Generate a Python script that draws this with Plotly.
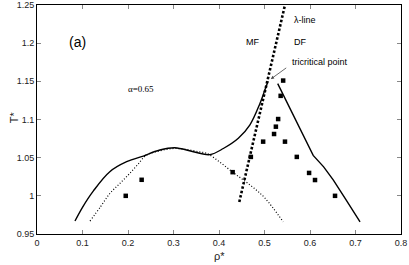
import plotly.graph_objects as go

# Solid coexistence curve, left branch
left_rho = [0.0835, 0.100, 0.124, 0.160, 0.197, 0.2337, 0.2396, 0.270, 0.303, 0.3436, 0.380, 0.4095, 0.4425, 0.468, 0.490, 0.501, 0.508]
left_T = [0.967, 0.985, 1.0065, 1.0316, 1.0447, 1.052, 1.0535, 1.060, 1.063, 1.0578, 1.054, 1.062, 1.0754, 1.093, 1.121, 1.139, 1.150]

# Solid coexistence curve, right branch
right_rho = [0.529, 0.548, 0.568, 0.588, 0.607, 0.630, 0.651, 0.680, 0.710]
right_T = [1.147, 1.124, 1.100, 1.076, 1.053, 1.038, 1.021, 0.994, 0.966]

# Dotted (mean-field) curve
mf_rho = [0.1165, 0.14, 0.16, 0.18, 0.2, 0.22, 0.241, 0.27, 0.30, 0.33, 0.358, 0.373, 0.40, 0.43, 0.453, 0.475, 0.501, 0.541]
mf_T = [0.967, 0.986, 1.003, 1.015, 1.027, 1.040, 1.0535, 1.059, 1.062, 1.0605, 1.0575, 1.0557, 1.045, 1.031, 1.021, 1.011, 0.997, 0.966]

# Lambda line
lam_rho = [0.4446, 0.545]
lam_T = [0.992, 1.25]

# Simulation points
sim_rho = [0.195, 0.23, 0.43, 0.47, 0.497, 0.545, 0.521, 0.525, 0.530, 0.5355, 0.541, 0.571, 0.598, 0.611, 0.655]
sim_T = [1.000, 1.021, 1.031, 1.051, 1.071, 1.071, 1.081, 1.0906, 1.1006, 1.131, 1.151, 1.051, 1.030, 1.0207, 1.000]

x_ticks = [0, 0.1, 0.2, 0.3, 0.4, 0.5, 0.6, 0.7, 0.8]
x_labels = ["0", "0.1", "0.2", "0.3", "0.4", "0.5", "0.6", "0.7", "0.8"]
y_ticks = [0.95, 1.0, 1.05, 1.1, 1.15, 1.2, 1.25]
y_labels = ["0.95", "1", "1.05", "1.1", "1.15", "1.2", "1.25"]

fig = go.Figure()
fig.add_trace(go.Scatter(x=mf_rho, y=mf_T, mode="lines", line_shape="spline",
                         line=dict(color="black", width=1.2, dash="1px,2px")))
fig.add_trace(go.Scatter(x=left_rho, y=left_T, mode="lines", line_shape="spline",
                         line=dict(color="black", width=1.4)))
fig.add_trace(go.Scatter(x=right_rho, y=right_T, mode="lines",
                         line=dict(color="black", width=1.4)))
fig.add_trace(go.Scatter(x=lam_rho, y=lam_T, mode="lines",
                         line=dict(color="black", width=2.6, dash="2.5px,2px")))
fig.add_trace(go.Scatter(x=sim_rho, y=sim_T, mode="markers",
                         marker=dict(symbol="square", size=4.5, color="black")))

font = "Liberation Sans, Arial, sans-serif"
axis_common = dict(showline=True, linecolor="black", linewidth=1, mirror="ticks",
                   ticks="inside", ticklen=4, tickcolor="#888", showgrid=False,
                   zeroline=False, automargin=False,
                   tickfont=dict(family=font, size=9, color="#222"))

fig.update_layout(
    width=409, height=265,
    margin=dict(l=37, r=8, t=5, b=31, autoexpand=False),
    plot_bgcolor="white", paper_bgcolor="white",
    showlegend=False,
    xaxis=dict(range=[0, 0.8], tickvals=x_ticks, ticktext=x_labels, **axis_common),
    yaxis=dict(range=[0.95, 1.25], tickvals=y_ticks, ticktext=y_labels, **axis_common),
    annotations=[
        dict(xref="paper", yref="paper", x=-0.085, y=0.51, text="T*", textangle=-90,
             showarrow=False, font=dict(family=font, size=11, color="#222")),
        dict(xref="paper", yref="paper", x=0.5, y=-0.06, yanchor="top", text="ρ*",
             showarrow=False, font=dict(family=font, size=11, color="#222")),
        dict(x=0.065, y=1.202, text="(a)", showarrow=False, xanchor="left",
             font=dict(family=font, size=14, color="black")),
        dict(x=0.229, y=1.14, text="α=0.65", showarrow=False,
             font=dict(family="Liberation Serif, serif", size=9, color="black")),
        dict(x=0.56, y=1.231, text="λ-line", showarrow=False, xanchor="left",
             font=dict(family=font, size=9, color="black")),
        dict(x=0.474, y=1.2015, text="MF", showarrow=False,
             font=dict(family=font, size=9, color="black")),
        dict(x=0.58, y=1.2015, text="DF", showarrow=False,
             font=dict(family=font, size=9, color="black")),
        dict(x=0.555, y=1.175, text="tricritical point", showarrow=False, xanchor="left",
             font=dict(family=font, size=9, color="black")),
        dict(x=0.514, y=1.153, ax=0.551, ay=1.169, xref="x", yref="y", axref="x", ayref="y",
             text="", showarrow=True, arrowhead=2, arrowsize=0.8, arrowwidth=0.8,
             arrowcolor="#444"),
    ],
)

fig.write_html("out.html", config={"displayModeBar": False},
               post_script="document.body.style.margin='0px';")
